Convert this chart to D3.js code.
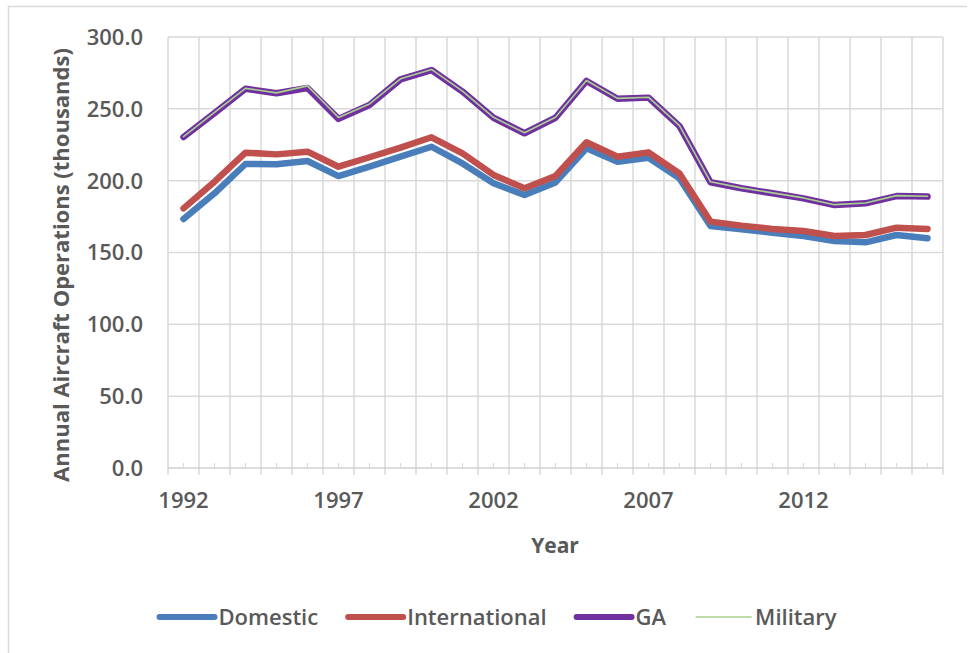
<!DOCTYPE html>
<html>
<head>
<meta charset="utf-8">
<script src="https://cdn.jsdelivr.net/npm/d3@7"></script>
<style>
  html, body { margin: 0; padding: 0; background: #fff; }
  svg { display: block; }
  text { font-family: "Open Sans", "Noto Sans", sans-serif; fill: #595959; }
</style>
</head>
<body>
<svg id="chart" width="971" height="653"></svg>
<script>
// Annual aircraft operations by category, thousands
const years = d3.range(1992, 2017);
const domestic = [173.3, 191.2, 211.6, 211.4, 213.7, 203.2, 209.7, 216.7, 223.6, 212.0,
                  198.2, 190.0, 198.8, 222.5, 213.2, 216.0, 201.6, 168.5, 166.1, 163.8,
                  161.5, 158.0, 157.1, 162.2, 159.9];
const international = [180.7, 199.3, 219.5, 218.3, 220.2, 209.7, 216.3, 223.0, 230.2, 219.0,
                       204.0, 194.7, 203.2, 226.7, 216.7, 219.7, 205.0, 171.5, 168.7, 166.4,
                       165.0, 161.5, 162.2, 167.3, 166.4];
const ga = [230.4, 247.0, 264.0, 260.8, 264.5, 243.0, 252.7, 270.5, 277.0, 262.0,
            243.8, 233.0, 243.8, 269.4, 257.0, 257.8, 238.0, 198.9, 194.7, 191.2,
            187.7, 183.0, 184.2, 189.3, 188.9];
const military = [230.7, 247.5, 264.3, 261.1, 266.0, 244.0, 253.4, 270.9, 277.4, 262.3,
                  244.1, 233.3, 244.1, 269.7, 257.3, 258.1, 238.3, 199.2, 195.0, 191.5,
                  188.0, 183.3, 184.5, 189.6, 189.2];
const yTicks = [0, 50, 100, 150, 200, 250, 300];
const xLabelYears = [1992, 1997, 2002, 2007, 2012];

const series = [
  { name: "Domestic", values: domestic, color: "#4A7EBB", width: 6.5 },
  { name: "International", values: international, color: "#C0504D", width: 6.5 },
  { name: "GA", values: ga, color: "#7030A0", width: 6.5 },
  { name: "Military", values: military, color: "#A9D18E", width: 1.6 }
];

const svg = d3.select("#chart");
const plot = { left: 168, right: 943, top: 37, bottom: 468 };

// chart frame
svg.append("path")
  .attr("d", `M8.5,660 L8.5,6.5 L967,6.5`)
  .attr("fill", "none").attr("stroke", "#d9d9d9").attr("stroke-width", 1.5);

const x = d3.scaleBand().domain(years).range([plot.left, plot.right]).paddingInner(0).paddingOuter(0);
const y = d3.scaleLinear().domain([0, 300]).range([plot.bottom, plot.top]);
const cx = yr => x(yr) + x.bandwidth() / 2;

// horizontal gridlines
svg.append("g").selectAll("line").data(yTicks.filter(d => d > 0)).join("line")
  .attr("x1", plot.left).attr("x2", plot.right)
  .attr("y1", d => y(d)).attr("y2", d => y(d))
  .attr("stroke", "#d9d9d9").attr("stroke-width", 1.5);

// vertical gridlines at category boundaries
const bounds = years.map(yr => x(yr)).concat([plot.right]);
svg.append("g").selectAll("line").data(bounds).join("line")
  .attr("x1", d => d).attr("x2", d => d)
  .attr("y1", plot.top).attr("y2", plot.bottom + 7)
  .attr("stroke", "#d9d9d9").attr("stroke-width", 1.5);

// minor tick marks at category centres
svg.append("g").selectAll("line").data(years).join("line")
  .attr("x1", d => cx(d)).attr("x2", d => cx(d))
  .attr("y1", plot.bottom - 5).attr("y2", plot.bottom)
  .attr("stroke", "#d9d9d9").attr("stroke-width", 1.2);

// category axis line
svg.append("line")
  .attr("x1", plot.left).attr("x2", plot.right)
  .attr("y1", plot.bottom).attr("y2", plot.bottom)
  .attr("stroke", "#d0d0d0").attr("stroke-width", 1.5);

// value axis labels
svg.append("g").selectAll("text").data(yTicks).join("text")
  .attr("x", 143).attr("y", d => y(d))
  .attr("dy", "0.36em")
  .attr("text-anchor", "end")
  .style("font-size", "22px").style("font-weight", 600)
  .text(d => d3.format(".1f")(d));

// category axis labels
svg.append("g").selectAll("text").data(xLabelYears).join("text")
  .attr("x", d => cx(d)).attr("y", 500)
  .attr("dy", "0.36em")
  .attr("text-anchor", "middle")
  .style("font-size", "22px").style("font-weight", 600)
  .text(d => d);

// axis titles
svg.append("text")
  .attr("transform", `translate(61,265) rotate(-90)`)
  .attr("text-anchor", "middle").attr("dy", "0.36em")
  .style("font-size", "22px").style("font-weight", 700)
  .text("Annual Aircraft Operations (thousands)");

svg.append("text")
  .attr("x", 555).attr("y", 545).attr("dy", "0.36em")
  .attr("text-anchor", "middle")
  .style("font-size", "21px").style("font-weight", 700)
  .text("Year");

// series lines
const line = d3.line().x((d, i) => cx(years[i])).y(d => y(d));
svg.append("g").selectAll("path").data(series).join("path")
  .attr("d", s => line(s.values))
  .attr("fill", "none")
  .attr("stroke", s => s.color)
  .attr("stroke-width", s => s.width)
  .attr("stroke-linejoin", "round")
  .attr("stroke-linecap", "round");

// legend
const legend = svg.append("g");
const lineLen = 55, gapText = 4, gapItem = 30, legendY = 617;
const items = legend.selectAll("g").data(series).join("g");
items.append("line")
  .attr("x1", 0).attr("x2", lineLen).attr("y1", 0).attr("y2", 0)
  .attr("stroke", s => s.color)
  .attr("stroke-width", s => s.width > 2 ? 6 : 1.6)
  .attr("stroke-linecap", "round");
items.append("text")
  .attr("x", lineLen + gapText).attr("dy", "0.36em")
  .style("font-size", "22px").style("font-weight", 600)
  .text(s => s.name);
let offset = 0;
const widths = [];
items.each(function () {
  const w = lineLen + gapText + d3.select(this).select("text").node().getComputedTextLength();
  widths.push(w);
});
const total = d3.sum(widths) + gapItem * (widths.length - 1);
const start = 498 - total / 2;
items.attr("transform", (d, i) => {
  const t = `translate(${start + offset},${legendY})`;
  offset += widths[i] + gapItem;
  return t;
});
</script>
</body>
</html>
